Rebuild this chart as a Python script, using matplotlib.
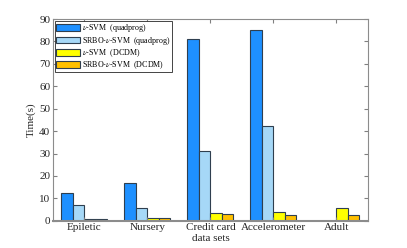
import numpy as np
import matplotlib.pyplot as plt

plt.rcParams['font.family'] = ['Liberation Serif', 'DejaVu Serif']
plt.rcParams['mathtext.fontset'] = 'stix'

datasets = ['Epiletic', 'Nursery', 'Credit card', 'Accelerometer', 'Adult']
nu_svm_qp = [12.3, 16.8, 81.0, 85.0, 0.0]
srbo_qp = [7.0, 5.6, 31.0, 42.3, 0.0]
nu_svm_dcdm = [0.7, 1.0, 3.3, 3.7, 5.7]
srbo_dcdm = [0.7, 1.0, 2.9, 2.4, 2.4]

series = [nu_svm_qp, srbo_qp, nu_svm_dcdm, srbo_dcdm]
labels = [r'$\nu$-SVM  (quadprog)', r'SRBO-$\nu$-SVM  (quadprog)',
          r'$\nu$-SVM  (DCDM)', r'SRBO-$\nu$-SVM  (DCDM)']
colors = ['#1e90ff', '#a6d8f7', '#ffff00', '#ffc000']

fig = plt.figure(figsize=(4.07, 2.48), dpi=100)
ax = fig.add_axes([0.130, 0.110, 0.774, 0.813])

x = np.arange(1, len(datasets) + 1)
w = 0.182
for i, (vals, lab, c) in enumerate(zip(series, labels, colors)):
    ax.bar(x + (i - 1.5) * w, vals, w, color=c, edgecolor='#2f3f4f',
           linewidth=0.8, label=lab)

ax.set_xlim(0.5, 5.5)
ax.set_ylim(0, 90)
ax.set_yticks(range(0, 91, 10))
ax.set_xticks(x)
ax.set_xticklabels(datasets, fontsize=8)
ax.tick_params(axis='y', labelsize=8)
ax.tick_params(direction='in', top=True, right=True, length=3,
               color='#808080', labelcolor='#262626', pad=2)
for s in ax.spines.values():
    s.set_color('#8c8c8c')
    s.set_linewidth(0.8)
ax.spines['bottom'].set_linewidth(1.5)
ax.set_ylabel('Time(s)', fontsize=8, color='#262626', labelpad=2)
ax.set_xlabel('data sets', fontsize=8, color='#262626', labelpad=1)

leg = ax.legend(loc='upper left', fontsize=5.8, fancybox=False,
                edgecolor='#262626', framealpha=1, borderaxespad=0.25,
                handlelength=3.0, handleheight=0.9, handletextpad=0.2,
                labelspacing=0.05, borderpad=0.15)
leg.get_frame().set_linewidth(0.6)

fig.savefig('out.png', dpi=100)
